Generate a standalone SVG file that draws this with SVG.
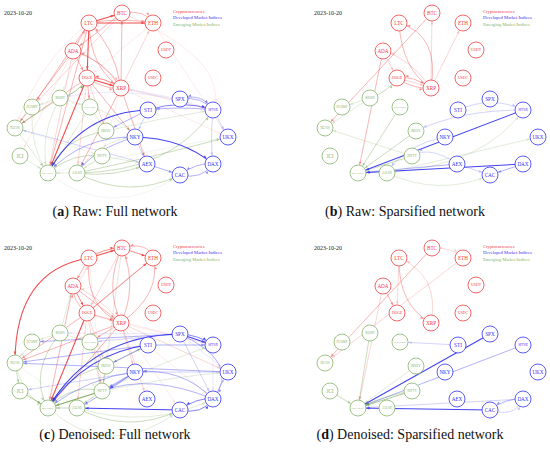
<svg xmlns="http://www.w3.org/2000/svg" width="550" height="459" viewBox="0 0 550 459">
<style>
.bg{fill:#fff}
.edges path{fill:none;stroke-width:0.65}
.r{stroke:#f03232;marker-end:url(#mr)}
.b{stroke:#2828f0;marker-end:url(#mb)}
.g{stroke:#6fa04a;marker-end:url(#mg)}
.o1{opacity:.14}.o2{opacity:.3}.o3{opacity:.55}.o4{opacity:.88}
.edges path.w{stroke-width:1.05}
.node circle{fill:#fff;stroke-width:0.8}
.node text{font-family:"Liberation Serif",serif;text-anchor:middle;dominant-baseline:central}
.cr circle{stroke:#f04040}.cr text{fill:#f04040}
.dv circle{stroke:#3434f0}.dv text{fill:#3434f0}
.em circle{stroke:#86b46a}.em text{fill:#86b46a}
.f3{font-size:5.2px}.f4{font-size:3.8px}.f5{font-size:3.2px}.f6{font-size:2.9px}
.date{font-family:"Liberation Serif",serif;font-size:6px;fill:#222}
.leg{font-family:"Liberation Serif",serif;font-size:4.6px}
.cap{font-family:"Liberation Serif",serif;font-size:14px;fill:#111;text-anchor:middle}
</style>
<defs>
<marker id="mr" markerUnits="userSpaceOnUse" orient="auto" markerWidth="1" markerHeight="1" overflow="visible"><path d="M-8.4,0L-11.6,-1.3L-11.6,1.3z" fill="#f03232"/></marker>
<marker id="mb" markerUnits="userSpaceOnUse" orient="auto" markerWidth="1" markerHeight="1" overflow="visible"><path d="M-8.4,0L-11.6,-1.3L-11.6,1.3z" fill="#2828f0"/></marker>
<marker id="mg" markerUnits="userSpaceOnUse" orient="auto" markerWidth="1" markerHeight="1" overflow="visible"><path d="M-8.4,0L-11.6,-1.3L-11.6,1.3z" fill="#6fa04a"/></marker>
</defs>
<rect class="bg" width="550" height="459"/>

<!-- Panel A -->
<g id="panel-a">
<text class="date" x="4" y="15">2023-10-20</text>
<text class="leg" x="173" y="12.5" fill="#f04040">Cryptocurrencies</text>
<text class="leg" x="173" y="19" fill="#3434f0">Developed Market Indices</text>
<text class="leg" x="173" y="25.5" fill="#86b46a">Emerging Market Indices</text>
<g id="a-edges" class="edges">
<path class="r o4 w" d="M89 23L122 13"/>
<path class="r o4 w" d="M89 23L153 23"/>
<path class="r o3" d="M89 23Q121 17 153 23"/>
<path class="r o3" d="M122 13Q145 9 153 23"/>
<path class="r o3" d="M121 88L122 13"/>
<path class="r o2" d="M121 88L153 23"/>
<path class="r o3" d="M121 88Q114 45 89 23"/>
<path class="r o3" d="M89 23Q90 68 121 88"/>
<path class="r o4 w" d="M89 23L87 78"/>
<path class="r o3" d="M73 51L89 23"/>
<path class="r o3" d="M121 88Q102 58 73 51"/>
<path class="r o2" d="M73 51Q108 62 121 88"/>
<path class="r o4 w" d="M87 78L121 88"/>
<path class="r o3" d="M87 78Q106 90 121 88"/>
<path class="r o4" d="M121 88Q103 76 87 78"/>
<path class="r o3" d="M73 51L87 78"/>
<path class="r o3" d="M122 13L73 51"/>
<path class="r o2" d="M122 13L32 107"/>
<path class="r o3" d="M89 23L32 107"/>
<path class="r o3" d="M73 51L15 128"/>
<path class="r o3" d="M87 78L15 128"/>
<path class="r o4 w" d="M87 78L48 173"/>
<path class="r o3" d="M89 23L48 173"/>
<path class="r o2" d="M73 51L48 173"/>
<path class="r o3" d="M87 78L90 107"/>
<path class="r o3" d="M121 88L77 173"/>
<path class="r o2" d="M87 78L77 173"/>
<path class="r o3" d="M87 78L135 137"/>
<path class="r o3" d="M121 88L147 164"/>
<path class="r o1" d="M121 88L228 137"/>
<path class="r o1" d="M87 78L213 110"/>
<path class="r o1" d="M121 88L213 110"/>
<path class="r o2" d="M87 78L106 131"/>
<path class="r o1" d="M153 23L228 137"/>
<path class="r o1" d="M89 23L60 98"/>
<path class="r o1" d="M89 23Q40 60 15 128"/>
<path class="r o1" d="M121 88L102 156"/>
<path class="r o1" d="M153 23L87 78"/>
<path class="r o1" d="M122 13Q230 60 213 110"/>
<path class="r o1" d="M73 51L20 156"/>
<path class="g o4" d="M60 98Q78 94 87 78"/>
<path class="g o2" d="M60 98L32 107"/>
<path class="g o2" d="M60 98L90 107"/>
<path class="g o3" d="M60 98L15 128"/>
<path class="g o2" d="M32 107L15 128"/>
<path class="g o2" d="M90 107L106 131"/>
<path class="g o2" d="M90 107Q115 112 135 137"/>
<path class="g o3" d="M106 131Q62 138 48 173"/>
<path class="g o3" d="M102 156Q72 152 48 173"/>
<path class="g o2" d="M77 173L48 173"/>
<path class="g o3" d="M77 173Q115 178 147 164"/>
<path class="g o3" d="M77 173Q128 200 180 175"/>
<path class="g o3" d="M77 173Q150 158 228 137"/>
<path class="g o3" d="M77 173Q172 172 213 110"/>
<path class="g o2" d="M77 173Q98 140 135 137"/>
<path class="g o1" d="M48 173Q110 222 180 175"/>
<path class="g o2" d="M102 156L147 164"/>
<path class="g o2" d="M15 128L48 173"/>
<path class="g o2" d="M20 156L48 173"/>
<path class="g o2" d="M60 98Q38 138 48 173"/>
<path class="g o2" d="M90 107L48 173"/>
<path class="g o2" d="M106 131Q160 118 213 110"/>
<path class="g o2" d="M102 156L77 173"/>
<path class="g o1" d="M15 128L102 156"/>
<path class="g o1" d="M48 173Q150 150 228 137"/>
<path class="g o1" d="M60 98L106 131"/>
<path class="g o2" d="M32 107Q30 150 48 173"/>
<path class="b o4 w" d="M148 110Q82 112 48 173"/>
<path class="b o3" d="M135 137Q82 136 48 173"/>
<path class="b o3" d="M148 110L106 131"/>
<path class="b o3" d="M180 99Q202 96 213 110"/>
<path class="b o3" d="M213 110Q202 92 180 99"/>
<path class="b o4" d="M148 110Q182 99 213 110"/>
<path class="b o3" d="M213 110Q180 106 148 110"/>
<path class="b o4 w" d="M135 137Q182 138 213 164"/>
<path class="b o3" d="M213 164Q197 162 180 175"/>
<path class="b o3" d="M180 175Q202 180 213 164"/>
<path class="b o3" d="M147 164L180 175"/>
<path class="b o3" d="M135 137Q92 150 77 173"/>
<path class="b o2" d="M147 164L15 128"/>
<path class="b o1" d="M213 110Q130 82 60 98"/>
<path class="b o2" d="M213 110L228 137"/>
<path class="b o2" d="M148 110L135 137"/>
<path class="b o1" d="M180 99L121 88"/>
<path class="b o2" d="M213 110Q210 140 213 164"/>
<path class="b o2" d="M135 137L147 164"/>
</g>
<g id="a-BTC" class="node cr"><circle cx="122" cy="13" r="8"/><text class="f3" x="122" y="13">BTC</text></g>
<g id="a-LTC" class="node cr"><circle cx="89" cy="23" r="8"/><text class="f3" x="89" y="23">LTC</text></g>
<g id="a-ETH" class="node cr"><circle cx="153" cy="23" r="8"/><text class="f3" x="153" y="23">ETH</text></g>
<g id="a-ADA" class="node cr"><circle cx="73" cy="51" r="8"/><text class="f3" x="73" y="51">ADA</text></g>
<g id="a-USDT" class="node cr"><circle cx="166" cy="50" r="8"/><text class="f4" x="166" y="50">USDT</text></g>
<g id="a-DOGE" class="node cr"><circle cx="87" cy="78" r="8"/><text class="f4" x="87" y="78">DOGE</text></g>
<g id="a-USDC" class="node cr"><circle cx="153" cy="78" r="8"/><text class="f4" x="153" y="78">USDC</text></g>
<g id="a-XRP" class="node cr"><circle cx="121" cy="88" r="8"/><text class="f3" x="121" y="88">XRP</text></g>
<g id="a-SPX" class="node dv"><circle cx="180" cy="99" r="8"/><text class="f3" x="180" y="99">SPX</text></g>
<g id="a-STI" class="node dv"><circle cx="148" cy="110" r="8"/><text class="f3" x="148" y="110">STI</text></g>
<g id="a-SPTSX" class="node dv"><circle cx="213" cy="110" r="8"/><text class="f5" x="213" y="110">SPTSX</text></g>
<g id="a-NKY" class="node dv"><circle cx="135" cy="137" r="8"/><text class="f3" x="135" y="137">NKY</text></g>
<g id="a-UKX" class="node dv"><circle cx="228" cy="137" r="8"/><text class="f3" x="228" y="137">UKX</text></g>
<g id="a-AEX" class="node dv"><circle cx="147" cy="164" r="8"/><text class="f3" x="147" y="164">AEX</text></g>
<g id="a-DAX" class="node dv"><circle cx="213" cy="164" r="8"/><text class="f3" x="213" y="164">DAX</text></g>
<g id="a-CAC" class="node dv"><circle cx="180" cy="175" r="8"/><text class="f3" x="180" y="175">CAC</text></g>
<g id="a-KOSPI" class="node em"><circle cx="60" cy="98" r="8"/><text class="f5" x="60" y="98">KOSPI</text></g>
<g id="a-PCOMP" class="node em"><circle cx="32" cy="107" r="8"/><text class="f5" x="32" y="107">PCOMP</text></g>
<g id="a-SHCOMP" class="node em"><circle cx="90" cy="107" r="8"/><text class="f6" x="90" y="107">SHCOMP</text></g>
<g id="a-XU100" class="node em"><circle cx="15" cy="128" r="8"/><text class="f5" x="15" y="128">XU100</text></g>
<g id="a-IBOV" class="node em"><circle cx="106" cy="131" r="8"/><text class="f4" x="106" y="131">IBOV</text></g>
<g id="a-JCI" class="node em"><circle cx="20" cy="156" r="8"/><text class="f3" x="20" y="156">JCI</text></g>
<g id="a-NIFTY" class="node em"><circle cx="102" cy="156" r="8"/><text class="f5" x="102" y="156">NIFTY</text></g>
<g id="a-MEXBOL" class="node em"><circle cx="48" cy="173" r="8"/><text class="f6" x="48" y="173">MEXBOL</text></g>
<g id="a-JALSH" class="node em"><circle cx="77" cy="173" r="8"/><text class="f5" x="77" y="173">JALSH</text></g>
</g>

<!-- Panel B -->
<g id="panel-b" transform="translate(310,0)">
<text class="date" x="4" y="15">2023-10-20</text>
<text class="leg" x="173" y="12.5" fill="#f04040">Cryptocurrencies</text>
<text class="leg" x="173" y="19" fill="#3434f0">Developed Market Indices</text>
<text class="leg" x="173" y="25.5" fill="#86b46a">Emerging Market Indices</text>
<g id="b-edges" class="edges">
<path class="r o2" d="M121 88L122 13"/>
<path class="r o2" d="M121 88L153 23"/>
<path class="r o3" d="M121 88Q130 35 89 23"/>
<path class="r o3" d="M89 23Q92 70 121 88"/>
<path class="r o2" d="M121 88Q100 58 73 51"/>
<path class="r o2" d="M73 51L87 78"/>
<path class="r o3" d="M87 78Q105 90 121 88"/>
<path class="r o2" d="M87 78Q104 82 121 88"/>
<path class="r o3" d="M121 88Q103 75 87 78"/>
<path class="r o3" d="M122 13L15 128"/>
<path class="r o3" d="M73 51L48 173"/>
<path class="g o3" d="M60 98Q78 92 87 78"/>
<path class="g o2" d="M60 98L32 107"/>
<path class="g o2" d="M60 98L15 128"/>
<path class="g o3" d="M90 107L48 173"/>
<path class="g o3" d="M106 131L48 173"/>
<path class="g o3" d="M102 156L48 173"/>
<path class="g o2" d="M102 156L15 128"/>
<path class="g o2" d="M77 173Q130 197 180 175"/>
<path class="g o2" d="M77 173Q175 165 213 110"/>
<path class="g o2" d="M77 173L228 137"/>
<path class="b o2" d="M148 110Q182 95 213 110"/>
<path class="b o2" d="M213 110Q150 110 106 131"/>
<path class="b o4 w" d="M213 110L48 173"/>
<path class="b o2" d="M135 137Q95 145 77 173"/>
<path class="b o4 w" d="M213 164L48 173"/>
<path class="b o3" d="M147 164L48 173"/>
<path class="b o2" d="M147 164L180 175"/>
<path class="b o3" d="M213 164L180 175"/>
<path class="b o2" d="M147 164Q120 145 102 156"/>
</g>
<g id="b-BTC" class="node cr"><circle cx="122" cy="13" r="8"/><text class="f3" x="122" y="13">BTC</text></g>
<g id="b-LTC" class="node cr"><circle cx="89" cy="23" r="8"/><text class="f3" x="89" y="23">LTC</text></g>
<g id="b-ETH" class="node cr"><circle cx="153" cy="23" r="8"/><text class="f3" x="153" y="23">ETH</text></g>
<g id="b-ADA" class="node cr"><circle cx="73" cy="51" r="8"/><text class="f3" x="73" y="51">ADA</text></g>
<g id="b-USDT" class="node cr"><circle cx="166" cy="50" r="8"/><text class="f4" x="166" y="50">USDT</text></g>
<g id="b-DOGE" class="node cr"><circle cx="87" cy="78" r="8"/><text class="f4" x="87" y="78">DOGE</text></g>
<g id="b-USDC" class="node cr"><circle cx="153" cy="78" r="8"/><text class="f4" x="153" y="78">USDC</text></g>
<g id="b-XRP" class="node cr"><circle cx="121" cy="88" r="8"/><text class="f3" x="121" y="88">XRP</text></g>
<g id="b-SPX" class="node dv"><circle cx="180" cy="99" r="8"/><text class="f3" x="180" y="99">SPX</text></g>
<g id="b-STI" class="node dv"><circle cx="148" cy="110" r="8"/><text class="f3" x="148" y="110">STI</text></g>
<g id="b-SPTSX" class="node dv"><circle cx="213" cy="110" r="8"/><text class="f5" x="213" y="110">SPTSX</text></g>
<g id="b-NKY" class="node dv"><circle cx="135" cy="137" r="8"/><text class="f3" x="135" y="137">NKY</text></g>
<g id="b-UKX" class="node dv"><circle cx="228" cy="137" r="8"/><text class="f3" x="228" y="137">UKX</text></g>
<g id="b-AEX" class="node dv"><circle cx="147" cy="164" r="8"/><text class="f3" x="147" y="164">AEX</text></g>
<g id="b-DAX" class="node dv"><circle cx="213" cy="164" r="8"/><text class="f3" x="213" y="164">DAX</text></g>
<g id="b-CAC" class="node dv"><circle cx="180" cy="175" r="8"/><text class="f3" x="180" y="175">CAC</text></g>
<g id="b-KOSPI" class="node em"><circle cx="60" cy="98" r="8"/><text class="f5" x="60" y="98">KOSPI</text></g>
<g id="b-PCOMP" class="node em"><circle cx="32" cy="107" r="8"/><text class="f5" x="32" y="107">PCOMP</text></g>
<g id="b-SHCOMP" class="node em"><circle cx="90" cy="107" r="8"/><text class="f6" x="90" y="107">SHCOMP</text></g>
<g id="b-XU100" class="node em"><circle cx="15" cy="128" r="8"/><text class="f5" x="15" y="128">XU100</text></g>
<g id="b-IBOV" class="node em"><circle cx="106" cy="131" r="8"/><text class="f4" x="106" y="131">IBOV</text></g>
<g id="b-JCI" class="node em"><circle cx="20" cy="156" r="8"/><text class="f3" x="20" y="156">JCI</text></g>
<g id="b-NIFTY" class="node em"><circle cx="102" cy="156" r="8"/><text class="f5" x="102" y="156">NIFTY</text></g>
<g id="b-MEXBOL" class="node em"><circle cx="48" cy="173" r="8"/><text class="f6" x="48" y="173">MEXBOL</text></g>
<g id="b-JALSH" class="node em"><circle cx="77" cy="173" r="8"/><text class="f5" x="77" y="173">JALSH</text></g>
</g>

<!-- Panel C -->
<g id="panel-c" transform="translate(0,235)">
<text class="date" x="4" y="15">2023-10-20</text>
<text class="leg" x="173" y="12.5" fill="#f04040">Cryptocurrencies</text>
<text class="leg" x="173" y="19" fill="#3434f0">Developed Market Indices</text>
<text class="leg" x="173" y="25.5" fill="#86b46a">Emerging Market Indices</text>
<g id="c-edges" class="edges">
<path class="r o4 w" d="M89 23L122 13"/>
<path class="r o4" d="M89 23Q104 13 122 13"/>
<path class="r o3" d="M153 23Q148 6 122 13"/>
<path class="r o4" d="M122 13Q142 20 153 23"/>
<path class="r o3" d="M121 88Q162 58 153 23"/>
<path class="r o3" d="M121 88Q138 50 122 13"/>
<path class="r o3" d="M122 13Q104 50 121 88"/>
<path class="r o3" d="M89 23Q84 72 121 88"/>
<path class="r o3" d="M89 23L73 51"/>
<path class="r o2" d="M73 51Q86 42 89 23"/>
<path class="r o4" d="M73 51L87 78"/>
<path class="r o3" d="M87 78Q72 66 73 51"/>
<path class="r o3" d="M73 51L121 88"/>
<path class="r o2" d="M121 88Q96 58 73 51"/>
<path class="r o3" d="M87 78L153 23"/>
<path class="r o3" d="M87 78Q122 48 153 23"/>
<path class="r o3" d="M87 78L121 88"/>
<path class="r o4 w" d="M89 23Q15 35 15 128"/>
<path class="r o3" d="M87 78L15 128"/>
<path class="r o3" d="M121 88L15 128"/>
<path class="r o3" d="M73 51L48 173"/>
<path class="r o4 w" d="M87 78L48 173"/>
<path class="r o3" d="M121 88L48 173"/>
<path class="r o3" d="M121 88L90 107"/>
<path class="r o2" d="M87 78L102 156"/>
<path class="r o2" d="M87 78L106 131"/>
<path class="r o2" d="M121 88L135 137"/>
<path class="r o2" d="M121 88L147 164"/>
<path class="r o1" d="M121 88L180 175"/>
<path class="r o2" d="M121 88L228 137"/>
<path class="r o2" d="M87 78L77 173"/>
<path class="r o1" d="M89 23L102 156"/>
<path class="r o1" d="M122 13L106 131"/>
<path class="r o1" d="M87 78L213 110"/>
<path class="r o1" d="M121 88L213 110"/>
<path class="r o1" d="M121 88L213 164"/>
<path class="r o2" d="M122 13L87 78"/>
<path class="g o2" d="M60 98L73 51"/>
<path class="g o1" d="M102 156L122 13"/>
<path class="g o2" d="M60 98L32 107"/>
<path class="g o2" d="M60 98L90 107"/>
<path class="g o2" d="M32 107L15 128"/>
<path class="g o2" d="M90 107L106 131"/>
<path class="g o4" d="M20 156L48 173"/>
<path class="g o3" d="M15 128L20 156"/>
<path class="g o2" d="M15 128Q25 165 48 173"/>
<path class="g o3" d="M60 98Q28 138 48 173"/>
<path class="g o4 w" d="M102 156L48 173"/>
<path class="g o3" d="M102 156Q72 148 48 173"/>
<path class="g o3" d="M106 131Q65 140 48 173"/>
<path class="g o3" d="M106 131L102 156"/>
<path class="g o2" d="M90 107L102 156"/>
<path class="g o3" d="M77 173L48 173"/>
<path class="g o3" d="M102 156L77 173"/>
<path class="g o3" d="M77 173Q128 200 180 175"/>
<path class="g o2" d="M48 173Q110 228 180 175"/>
<path class="g o2" d="M77 173Q150 195 213 164"/>
<path class="g o2" d="M102 156Q170 142 228 137"/>
<path class="g o3" d="M106 131L148 110"/>
<path class="g o2" d="M102 156Q160 128 213 110"/>
<path class="g o1" d="M32 107L102 156"/>
<path class="g o1" d="M15 128L77 173"/>
<path class="b o4 w" d="M180 99Q92 100 48 173"/>
<path class="b o4 w" d="M148 110Q86 118 48 173"/>
<path class="b o3" d="M135 137Q90 142 48 173"/>
<path class="b o4 w" d="M180 99L213 110"/>
<path class="b o4" d="M180 99Q199 100 213 110"/>
<path class="b o3" d="M180 99L32 107"/>
<path class="b o3" d="M148 110L15 128"/>
<path class="b o3" d="M180 99Q242 128 213 164"/>
<path class="b o3" d="M228 137L15 128"/>
<path class="b o2" d="M180 99L90 107"/>
<path class="b o4" d="M213 164Q197 162 180 175"/>
<path class="b o4" d="M180 175Q202 180 213 164"/>
<path class="b o4 w" d="M180 175L77 173"/>
<path class="b o3" d="M135 137L102 156"/>
<path class="b o3" d="M135 137Q116 150 102 156"/>
<path class="b o3" d="M213 164Q182 132 135 137"/>
<path class="b o3" d="M213 164Q150 138 102 156"/>
<path class="b o2" d="M228 137L135 137"/>
<path class="b o3" d="M148 110L213 110"/>
<path class="b o1" d="M213 110L213 164"/>
<path class="b o2" d="M180 99L213 164"/>
<path class="b o2" d="M135 137L20 156"/>
<path class="b o3" d="M148 110L106 131"/>
<path class="b o3" d="M135 137Q100 162 77 173"/>
<path class="b o1" d="M180 99L60 98"/>
<path class="b o2" d="M213 164L228 137"/>
<path class="b o1" d="M180 99L228 137"/>
</g>
<g id="c-BTC" class="node cr"><circle cx="122" cy="13" r="8"/><text class="f3" x="122" y="13">BTC</text></g>
<g id="c-LTC" class="node cr"><circle cx="89" cy="23" r="8"/><text class="f3" x="89" y="23">LTC</text></g>
<g id="c-ETH" class="node cr"><circle cx="153" cy="23" r="8"/><text class="f3" x="153" y="23">ETH</text></g>
<g id="c-ADA" class="node cr"><circle cx="73" cy="51" r="8"/><text class="f3" x="73" y="51">ADA</text></g>
<g id="c-USDT" class="node cr"><circle cx="166" cy="50" r="8"/><text class="f4" x="166" y="50">USDT</text></g>
<g id="c-DOGE" class="node cr"><circle cx="87" cy="78" r="8"/><text class="f4" x="87" y="78">DOGE</text></g>
<g id="c-USDC" class="node cr"><circle cx="153" cy="78" r="8"/><text class="f4" x="153" y="78">USDC</text></g>
<g id="c-XRP" class="node cr"><circle cx="121" cy="88" r="8"/><text class="f3" x="121" y="88">XRP</text></g>
<g id="c-SPX" class="node dv"><circle cx="180" cy="99" r="8"/><text class="f3" x="180" y="99">SPX</text></g>
<g id="c-STI" class="node dv"><circle cx="148" cy="110" r="8"/><text class="f3" x="148" y="110">STI</text></g>
<g id="c-SPTSX" class="node dv"><circle cx="213" cy="110" r="8"/><text class="f5" x="213" y="110">SPTSX</text></g>
<g id="c-NKY" class="node dv"><circle cx="135" cy="137" r="8"/><text class="f3" x="135" y="137">NKY</text></g>
<g id="c-UKX" class="node dv"><circle cx="228" cy="137" r="8"/><text class="f3" x="228" y="137">UKX</text></g>
<g id="c-AEX" class="node dv"><circle cx="147" cy="164" r="8"/><text class="f3" x="147" y="164">AEX</text></g>
<g id="c-DAX" class="node dv"><circle cx="213" cy="164" r="8"/><text class="f3" x="213" y="164">DAX</text></g>
<g id="c-CAC" class="node dv"><circle cx="180" cy="175" r="8"/><text class="f3" x="180" y="175">CAC</text></g>
<g id="c-KOSPI" class="node em"><circle cx="60" cy="98" r="8"/><text class="f5" x="60" y="98">KOSPI</text></g>
<g id="c-PCOMP" class="node em"><circle cx="32" cy="107" r="8"/><text class="f5" x="32" y="107">PCOMP</text></g>
<g id="c-SHCOMP" class="node em"><circle cx="90" cy="107" r="8"/><text class="f6" x="90" y="107">SHCOMP</text></g>
<g id="c-XU100" class="node em"><circle cx="15" cy="128" r="8"/><text class="f5" x="15" y="128">XU100</text></g>
<g id="c-IBOV" class="node em"><circle cx="106" cy="131" r="8"/><text class="f4" x="106" y="131">IBOV</text></g>
<g id="c-JCI" class="node em"><circle cx="20" cy="156" r="8"/><text class="f3" x="20" y="156">JCI</text></g>
<g id="c-NIFTY" class="node em"><circle cx="102" cy="156" r="8"/><text class="f5" x="102" y="156">NIFTY</text></g>
<g id="c-MEXBOL" class="node em"><circle cx="48" cy="173" r="8"/><text class="f6" x="48" y="173">MEXBOL</text></g>
<g id="c-JALSH" class="node em"><circle cx="77" cy="173" r="8"/><text class="f5" x="77" y="173">JALSH</text></g>
</g>

<!-- Panel D -->
<g id="panel-d" transform="translate(310,235)">
<text class="date" x="4" y="15">2023-10-20</text>
<text class="leg" x="173" y="12.5" fill="#f04040">Cryptocurrencies</text>
<text class="leg" x="173" y="19" fill="#3434f0">Developed Market Indices</text>
<text class="leg" x="173" y="25.5" fill="#86b46a">Emerging Market Indices</text>
<g id="d-edges" class="edges">
<path class="r o2" d="M122 13Q142 12 153 23"/>
<path class="r o3" d="M89 23Q88 70 121 88"/>
<path class="r o2" d="M121 88Q130 40 89 23"/>
<path class="r o3" d="M73 51L87 78"/>
<path class="r o2" d="M89 23L87 78"/>
<path class="r o3" d="M122 13L15 128"/>
<path class="r o2" d="M153 23L15 128"/>
<path class="r o2" d="M73 51L48 173"/>
<path class="g o3" d="M60 98L48 173"/>
<path class="b o2" d="M148 110L90 107"/>
<path class="b o4 w" d="M180 99L48 173"/>
<path class="b o3" d="M213 110L48 173"/>
<path class="g o2" d="M106 131L48 173"/>
<path class="g o4" d="M102 156L48 173"/>
<path class="g o3" d="M102 156Q75 160 48 173"/>
<path class="g o3" d="M20 156L48 173"/>
<path class="b o4 w" d="M180 175L48 173"/>
<path class="b o2" d="M213 164L48 173"/>
<path class="b o3" d="M213 164Q195 163 180 175"/>
<path class="b o2" d="M180 175Q205 183 213 164"/>
</g>
<g id="d-BTC" class="node cr"><circle cx="122" cy="13" r="8"/><text class="f3" x="122" y="13">BTC</text></g>
<g id="d-LTC" class="node cr"><circle cx="89" cy="23" r="8"/><text class="f3" x="89" y="23">LTC</text></g>
<g id="d-ETH" class="node cr"><circle cx="153" cy="23" r="8"/><text class="f3" x="153" y="23">ETH</text></g>
<g id="d-ADA" class="node cr"><circle cx="73" cy="51" r="8"/><text class="f3" x="73" y="51">ADA</text></g>
<g id="d-USDT" class="node cr"><circle cx="166" cy="50" r="8"/><text class="f4" x="166" y="50">USDT</text></g>
<g id="d-DOGE" class="node cr"><circle cx="87" cy="78" r="8"/><text class="f4" x="87" y="78">DOGE</text></g>
<g id="d-USDC" class="node cr"><circle cx="153" cy="78" r="8"/><text class="f4" x="153" y="78">USDC</text></g>
<g id="d-XRP" class="node cr"><circle cx="121" cy="88" r="8"/><text class="f3" x="121" y="88">XRP</text></g>
<g id="d-SPX" class="node dv"><circle cx="180" cy="99" r="8"/><text class="f3" x="180" y="99">SPX</text></g>
<g id="d-STI" class="node dv"><circle cx="148" cy="110" r="8"/><text class="f3" x="148" y="110">STI</text></g>
<g id="d-SPTSX" class="node dv"><circle cx="213" cy="110" r="8"/><text class="f5" x="213" y="110">SPTSX</text></g>
<g id="d-NKY" class="node dv"><circle cx="135" cy="137" r="8"/><text class="f3" x="135" y="137">NKY</text></g>
<g id="d-UKX" class="node dv"><circle cx="228" cy="137" r="8"/><text class="f3" x="228" y="137">UKX</text></g>
<g id="d-AEX" class="node dv"><circle cx="147" cy="164" r="8"/><text class="f3" x="147" y="164">AEX</text></g>
<g id="d-DAX" class="node dv"><circle cx="213" cy="164" r="8"/><text class="f3" x="213" y="164">DAX</text></g>
<g id="d-CAC" class="node dv"><circle cx="180" cy="175" r="8"/><text class="f3" x="180" y="175">CAC</text></g>
<g id="d-KOSPI" class="node em"><circle cx="60" cy="98" r="8"/><text class="f5" x="60" y="98">KOSPI</text></g>
<g id="d-PCOMP" class="node em"><circle cx="32" cy="107" r="8"/><text class="f5" x="32" y="107">PCOMP</text></g>
<g id="d-SHCOMP" class="node em"><circle cx="90" cy="107" r="8"/><text class="f6" x="90" y="107">SHCOMP</text></g>
<g id="d-XU100" class="node em"><circle cx="15" cy="128" r="8"/><text class="f5" x="15" y="128">XU100</text></g>
<g id="d-IBOV" class="node em"><circle cx="106" cy="131" r="8"/><text class="f4" x="106" y="131">IBOV</text></g>
<g id="d-JCI" class="node em"><circle cx="20" cy="156" r="8"/><text class="f3" x="20" y="156">JCI</text></g>
<g id="d-NIFTY" class="node em"><circle cx="102" cy="156" r="8"/><text class="f5" x="102" y="156">NIFTY</text></g>
<g id="d-MEXBOL" class="node em"><circle cx="48" cy="173" r="8"/><text class="f6" x="48" y="173">MEXBOL</text></g>
<g id="d-JALSH" class="node em"><circle cx="77" cy="173" r="8"/><text class="f5" x="77" y="173">JALSH</text></g>
</g>

<g id="captions">
<text class="cap" x="115" y="216">(<tspan font-weight="bold">a</tspan>) Raw: Full network</text>
<text class="cap" x="405" y="216">(<tspan font-weight="bold">b</tspan>) Raw: Sparsified network</text>
<text class="cap" x="115" y="439">(<tspan font-weight="bold">c</tspan>) Denoised: Full network</text>
<text class="cap" x="410" y="439">(<tspan font-weight="bold">d</tspan>) Denoised: Sparsified network</text>
</g>
</svg>
